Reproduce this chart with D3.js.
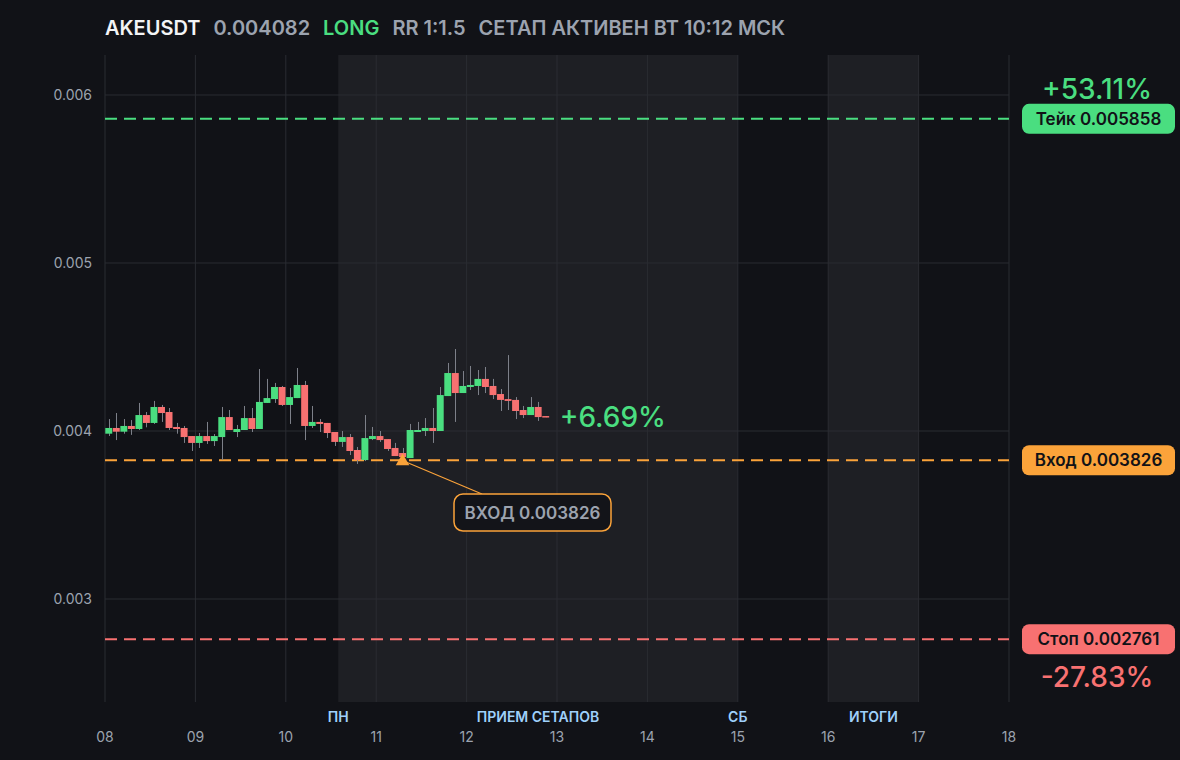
<!DOCTYPE html>
<html>
<head>
<meta charset="utf-8">
<script src="https://cdn.jsdelivr.net/npm/d3@7"></script>
<style>
  html, body { margin: 0; padding: 0; background: #111217; }
  svg { display: block; font-family: Inter, "Noto Sans", sans-serif; }
</style>
</head>
<body>
<svg id="chart" width="1180" height="760"></svg>
<script>
// 2h candles starting 08 00:00
var opens  = [0.003984,0.004018,0.003996,0.004030,0.004012,0.004095,0.004048,0.004143,0.004113,0.004024,
              0.004018,0.003970,0.003929,0.003970,0.003940,0.003964,0.004083,0.003994,0.004006,0.004077,
              0.004012,0.004167,0.004190,0.004262,0.004155,0.004196,0.004274,0.004030,0.004054,0.004048,
              0.003994,0.003935,0.003964,0.003887,0.003827,0.003952,0.003970,0.003952,0.003899,0.003869,
              0.003839,0.003994,0.004000,0.004018,0.004000,0.004208,0.004345,0.004226,0.004262,0.004268,
              0.004310,0.004268,0.004220,0.004190,0.004185,0.004125,0.004095,0.004143,0.004089];
var highs  = [0.004071,0.004107,0.004071,0.004065,0.004167,0.004113,0.004179,0.004155,0.004137,0.004048,
              0.004030,0.003970,0.003988,0.004054,0.003982,0.004143,0.004125,0.004036,0.004149,0.004137,
              0.004369,0.004310,0.004286,0.004268,0.004256,0.004375,0.004298,0.004149,0.004071,0.004048,
              0.003994,0.004000,0.003982,0.003905,0.004095,0.004024,0.004000,0.003952,0.003929,0.003899,
              0.004042,0.004054,0.004077,0.004137,0.004262,0.004405,0.004488,0.004357,0.004387,0.004363,
              0.004381,0.004310,0.004250,0.004452,0.004202,0.004149,0.004202,0.004173,0.004089];
var lows   = [0.003970,0.003946,0.003984,0.003977,0.004006,0.004022,0.004042,0.004054,0.004006,0.003984,
              0.003929,0.003881,0.003899,0.003923,0.003911,0.003827,0.004006,0.003964,0.004006,0.003994,
              0.004012,0.004167,0.004167,0.004149,0.004042,0.004196,0.003946,0.004018,0.003994,0.003958,
              0.003911,0.003905,0.003857,0.003804,0.003821,0.003946,0.003935,0.003881,0.003851,0.003833,
              0.003839,0.003994,0.003970,0.003929,0.004000,0.004208,0.004054,0.004226,0.004244,0.004214,
              0.004226,0.004190,0.004119,0.004125,0.004071,0.004077,0.004095,0.004060,0.004082];
var closes = [0.004018,0.003996,0.004030,0.004012,0.004095,0.004048,0.004143,0.004107,0.004018,0.004012,
              0.003964,0.003929,0.003970,0.003940,0.003970,0.004083,0.004006,0.004012,0.004077,0.004012,
              0.004173,0.004196,0.004262,0.004155,0.004202,0.004274,0.004030,0.004054,0.004042,0.003988,
              0.003935,0.003964,0.003881,0.003827,0.003958,0.003970,0.003946,0.003893,0.003851,0.003845,
              0.004006,0.004006,0.004018,0.004000,0.004214,0.004345,0.004226,0.004268,0.004274,0.004310,
              0.004262,0.004214,0.004185,0.004179,0.004119,0.004095,0.004143,0.004083,0.004082];

var yTicks = [0.003, 0.004, 0.005, 0.006];
var xTicks = [8, 9, 10, 11, 12, 13, 14, 15, 16, 17, 18];
var zones  = [[10.58, 15], [16, 17]];
var zoneLabels = [["ПН", 10.58], ["ПРИЕМ СЕТАПОВ", 12.79], ["СБ", 15], ["ИТОГИ", 16.5]];

var symbol = "AKEUSDT", lastPrice = 0.004082;
var takePrice = 0.005858, entryPrice = 0.003826, stopPrice = 0.002761;
var takePct = "+53.11%", stopPct = "-27.83%", nowPct = "+6.69%";
var entryCandle = 39;

var GREEN = "#4ade80", RED = "#f87171", ORANGE = "#fba33a", GRAY = "#9ca3af";

var svg = d3.select("#chart");
var W = 1180, H = 760;
var plotL = 105, plotR = 1009, plotT = 55, plotB = 702;

var x = d3.scaleLinear().domain([8, 18]).range([plotL, plotR]);
var y = d3.scaleLinear().domain([0.002387, 0.006238]).range([plotB, plotT]);

svg.append("rect").attr("width", W).attr("height", H).attr("fill", "#111217");

// session zones
svg.selectAll("rect.zone").data(zones).enter().append("rect")
  .attr("class", "zone")
  .attr("x", d => x(d[0])).attr("y", plotT)
  .attr("width", d => x(d[1]) - x(d[0])).attr("height", plotB - plotT)
  .attr("fill", "#1e1f24");

// grid
svg.selectAll("line.vgrid").data(xTicks).enter().append("line")
  .attr("class", "vgrid")
  .attr("x1", d => x(d)).attr("x2", d => x(d))
  .attr("y1", plotT).attr("y2", plotB)
  .attr("stroke", "#2a2c32").attr("stroke-width", 1);

svg.selectAll("line.hgrid").data(yTicks).enter().append("line")
  .attr("class", "hgrid")
  .attr("x1", plotL).attr("x2", plotR)
  .attr("y1", d => y(d)).attr("y2", d => y(d))
  .attr("stroke", "#2a2c32").attr("stroke-width", 1);

// axes labels
svg.selectAll("text.ytick").data(yTicks).enter().append("text")
  .attr("class", "ytick")
  .attr("x", 92).attr("y", d => y(d)).attr("dy", "0.35em")
  .attr("text-anchor", "end").attr("fill", GRAY).attr("font-size", 14)
  .text(d => d3.format(".3f")(d));

svg.selectAll("text.xtick").data(xTicks).enter().append("text")
  .attr("class", "xtick")
  .attr("x", d => x(d)).attr("y", 742)
  .attr("text-anchor", "middle").attr("fill", GRAY).attr("font-size", 14)
  .text(d => d3.format("02d")(d));

svg.selectAll("text.zlabel").data(zoneLabels).enter().append("text")
  .attr("class", "zlabel")
  .attr("x", d => x(d[1])).attr("y", 722)
  .attr("text-anchor", "middle").attr("fill", "#9fd0fb")
  .attr("font-size", 14).attr("font-weight", 600)
  .text(d => d[0]);

// level lines
var levels = [[takePrice, GREEN], [entryPrice, ORANGE], [stopPrice, RED]];
svg.selectAll("line.level").data(levels).enter().append("line")
  .attr("class", "level")
  .attr("x1", plotL).attr("x2", plotR)
  .attr("y1", d => y(d[0])).attr("y2", d => y(d[0]))
  .attr("stroke", d => d[1]).attr("stroke-width", 2)
  .attr("stroke-dasharray", "12,7");

// candles
var candles = d3.range(opens.length).map(function (i) {
  return { t: 8 + (i + 0.5) / 12, o: opens[i], h: highs[i], l: lows[i], c: closes[i] };
});
var bw = (x(8 + 1 / 12) - x(8)) * 0.92;

var g = svg.append("g");
g.selectAll("line.wick").data(candles).enter().append("line")
  .attr("class", "wick")
  .attr("x1", d => Math.round(x(d.t)) + 0.5).attr("x2", d => Math.round(x(d.t)) + 0.5)
  .attr("y1", d => y(d.h)).attr("y2", d => y(d.l))
  .attr("stroke", "#7d8089").attr("stroke-width", 1);

g.selectAll("rect.body").data(candles).enter().append("rect")
  .attr("class", "body")
  .attr("x", d => x(d.t) - bw / 2)
  .attr("y", d => y(Math.max(d.o, d.c)))
  .attr("width", bw)
  .attr("height", d => Math.max(1.5, Math.abs(y(d.o) - y(d.c))))
  .attr("fill", d => d.c >= d.o ? GREEN : RED);

// current pct
var last = candles[candles.length - 1];
svg.append("text")
  .attr("x", x(last.t) + 14).attr("y", y(lastPrice)).attr("dy", "0.36em")
  .attr("fill", GREEN).attr("font-size", 28).attr("font-weight", 500)
  .text(nowPct);

// entry marker + callout
var ex = x(candles[entryCandle].t), ey = y(entryPrice);
svg.append("line")
  .attr("x1", ex + 4).attr("y1", ey + 2)
  .attr("x2", 482).attr("y2", 494)
  .attr("stroke", ORANGE).attr("stroke-width", 1.2);
svg.append("path")
  .attr("d", d3.symbol().type(d3.symbolTriangle).size(80)())
  .attr("transform", "translate(" + ex + "," + (ey + 1) + ")")
  .attr("fill", ORANGE);

var cb = svg.append("g").attr("transform", "translate(454,494)");
cb.append("rect").attr("width", 157).attr("height", 37).attr("rx", 9)
  .attr("fill", "#131419").attr("stroke", ORANGE).attr("stroke-width", 1.5);
cb.append("text").attr("x", 78.5).attr("y", 18.5).attr("dy", "0.36em")
  .attr("text-anchor", "middle").attr("fill", GRAY)
  .attr("font-size", 17).attr("font-weight", 600)
  .text("ВХОД " + d3.format(".6f")(entryPrice));

// right side tags
var tags = [["Тейк", takePrice, GREEN], ["Вход", entryPrice, ORANGE], ["Стоп", stopPrice, RED]];
var tg = svg.selectAll("g.tag").data(tags).enter().append("g")
  .attr("class", "tag")
  .attr("transform", d => "translate(1022," + (y(d[1]) - 15) + ")");
tg.append("rect").attr("width", 153).attr("height", 30).attr("rx", 7)
  .attr("fill", d => d[2]);
tg.append("text").attr("x", 76.5).attr("y", 15).attr("dy", "0.36em")
  .attr("text-anchor", "middle").attr("fill", "#111217")
  .attr("font-size", 17).attr("font-weight", 600)
  .text(d => d[0] + " " + d3.format(".6f")(d[1]));

svg.append("text").attr("x", 1097).attr("y", y(takePrice) - 30).attr("dy", "0.36em")
  .attr("text-anchor", "middle").attr("fill", GREEN)
  .attr("font-size", 28).attr("font-weight", 500).text(takePct);
svg.append("text").attr("x", 1097).attr("y", y(stopPrice) + 38).attr("dy", "0.36em")
  .attr("text-anchor", "middle").attr("fill", RED)
  .attr("font-size", 28).attr("font-weight", 500).text(stopPct);

// header
var header = [[symbol, "#f3f4f6"], [d3.format(".6f")(lastPrice), GRAY], ["LONG", GREEN],
              ["RR 1:1.5", GRAY], ["СЕТАП АКТИВЕН ВТ 10:12 МСК", GRAY]];
var hx = 105;
header.forEach(function (h) {
  var t = svg.append("text").attr("x", hx).attr("y", 35)
    .attr("fill", h[1]).attr("font-size", 20).attr("font-weight", 600).text(h[0]);
  hx += t.node().getComputedTextLength() + 13;
});
</script>
</body>
</html>
